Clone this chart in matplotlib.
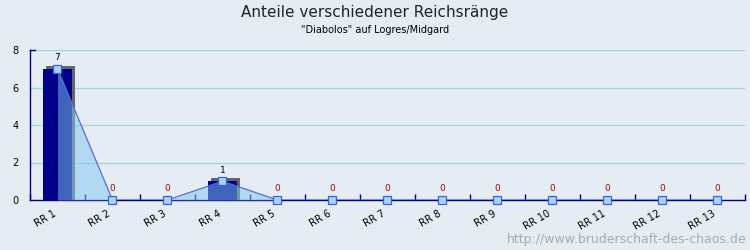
import matplotlib.pyplot as plt
import numpy as np

categories = ["RR 1", "RR 2", "RR 3", "RR 4", "RR 5", "RR 6", "RR 7",
              "RR 8", "RR 9", "RR 10", "RR 11", "RR 12", "RR 13"]
bar_values = [7, 0, 0, 1, 0, 0, 0, 0, 0, 0, 0, 0, 0]
line_values = [7, 0, 0, 1, 0, 0, 0, 0, 0, 0, 0, 0, 0]
y_ticks = [0, 2, 4, 6, 8]

bg = "#e6ecf4"
navy = "#000088"

fig = plt.figure(figsize=(7.5, 2.5), dpi=100, facecolor=bg)
ax = fig.add_axes([0.04, 0.2, 0.9533, 0.6], facecolor=bg)

x = np.arange(len(categories))
width = 0.53

# grid
for yv in y_ticks[1:]:
    ax.axhline(yv, color="#a8d4e0", lw=1, zorder=0)

# 3d shadow of bars
dx, dy = 0.06, 0.16
for xi, v in zip(x, bar_values):
    if v > 0:
        ax.bar(xi + dx, v + dy, width, color="#666666", zorder=1)
ax.bar(x, bar_values, width, color=navy, zorder=2)

# area series
ax.fill_between(x, line_values, 0, color=(128/255, 200/255, 240/255), alpha=0.5,
                lw=0, zorder=3)
ax.plot(x, line_values, color="#5570cc", lw=0.9, zorder=4)
ax.plot(x, line_values, ls="none", marker="s", ms=6, mfc="#a8d4f4",
        mec="#3a60e0", mew=0.9, zorder=5, clip_on=False)

# value labels
for xi, v in zip(x, bar_values):
    if v > 0:
        ax.text(xi, v + 0.35, str(v), ha="center", va="bottom", fontsize=6.5,
                color="black", zorder=6)
    else:
        ax.text(xi, 0.35, "0", ha="center", va="bottom", fontsize=6.5,
                color="#b00000", zorder=6)

ax.set_xlim(-0.5, len(categories) - 0.5)
ax.set_ylim(0, 8)
ax.set_yticks(y_ticks)
ax.set_yticklabels([str(t) for t in y_ticks], fontsize=7)
ax.tick_params(axis="y", length=0, pad=8)

ax.set_xticks(np.arange(len(categories) + 1) - 0.5, minor=False)
ax.set_xticklabels([])
ax.tick_params(axis="x", direction="in", length=4, color=navy, width=1)
for xi, lab in zip(x, categories):
    ax.text(xi, -0.45, lab, rotation=30, ha="right", va="top", fontsize=7,
            transform=ax.transData)

for side in ["top", "right"]:
    ax.spines[side].set_visible(False)
for side in ["left", "bottom"]:
    ax.spines[side].set_color(navy)
    ax.spines[side].set_linewidth(1.0)
ax.plot([-0.5, -0.4], [8, 8], color=navy, lw=1.0, clip_on=False)

fig.text(0.5, 0.952, "Anteile verschiedener Reichsränge", ha="center", va="center",
         fontsize=11, color="#222222")
fig.text(0.5, 0.88, "\"Diabolos\" auf Logres/Midgard", ha="center", va="center",
         fontsize=7, color="black")
fig.text(0.995, 0.04, "http://www.bruderschaft-des-chaos.de", ha="right",
         va="center", fontsize=9, color="#aaaaaa")

fig.savefig("out.png", dpi=100, facecolor=bg)
